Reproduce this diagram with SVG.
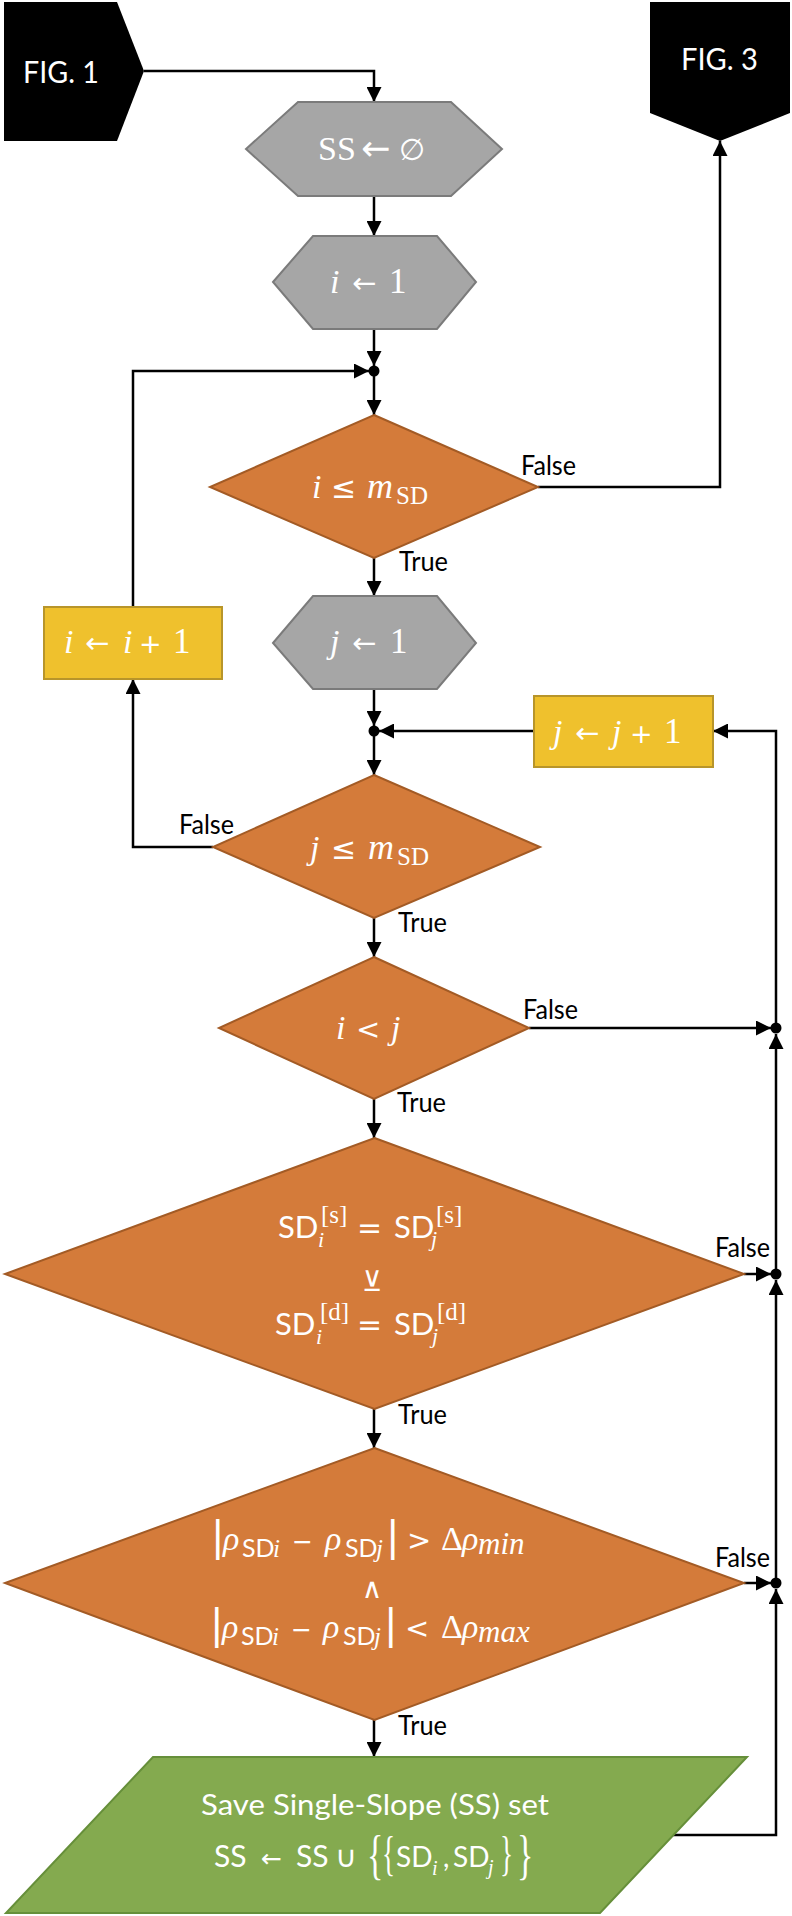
<svg xmlns="http://www.w3.org/2000/svg" width="792" height="1916" viewBox="0 0 792 1916">
<style>
.conn{stroke:#000;stroke-width:2.5;fill:none}
.arr{marker-end:url(#ah)}
.hex{fill:#a6a6a6;stroke:#7b7b7b;stroke-width:2}
.dia{fill:#d47b3a;stroke:#a35b25;stroke-width:2}
.box{fill:#efc12d;stroke:#b8952a;stroke-width:2}
.par{fill:#84aa4f;stroke:#668f3a;stroke-width:2}
.term{fill:#000}
.lbl{font-family:Lato,"Open Sans",sans-serif;font-size:26px;fill:#000}
.fig{font-family:Lato,"Open Sans",sans-serif;font-size:30px;fill:#fff}
.m{font-family:"Liberation Serif","DejaVu Serif",serif;font-size:34px;fill:#fff}
.s{font-family:Lato,"Open Sans",sans-serif}
.it{font-style:italic}
.op{font-family:"DejaVu Sans",sans-serif}
</style>
<defs>
<marker id="ah" viewBox="0 0 16 16" refX="16" refY="8" markerWidth="15" markerHeight="15" markerUnits="userSpaceOnUse" orient="auto">
<path d="M0,0 L16,8 L0,16 z" fill="#000"/>
</marker>
</defs>

<g id="connectors">
<polyline class="conn arr" points="144,71 374,71 374,102"/>
<line class="conn arr" x1="374" y1="196" x2="374" y2="236"/>
<line class="conn arr" x1="374" y1="329" x2="374" y2="366"/>
<polyline class="conn arr" points="133,607 133,371 369,371"/>
<line class="conn arr" x1="374" y1="376" x2="374" y2="415"/>
<polyline class="conn arr" points="538,487 720,487 720,141"/>
<line class="conn arr" x1="374" y1="558" x2="374" y2="596"/>
<line class="conn arr" x1="374" y1="689" x2="374" y2="726"/>
<line class="conn arr" x1="534" y1="731" x2="379" y2="731"/>
<line class="conn arr" x1="374" y1="736" x2="374" y2="775"/>
<polyline class="conn arr" points="213,847 133,847 133,679"/>
<line class="conn arr" x1="374" y1="918" x2="374" y2="957"/>
<line class="conn arr" x1="374" y1="1099" x2="374" y2="1138"/>
<line class="conn arr" x1="374" y1="1409" x2="374" y2="1448"/>
<line class="conn arr" x1="374" y1="1720" x2="374" y2="1757"/>
<line class="conn arr" x1="529" y1="1028" x2="771" y2="1028"/>
<line class="conn arr" x1="744" y1="1274" x2="771" y2="1274"/>
<line class="conn arr" x1="744" y1="1583" x2="771" y2="1583"/>
<polyline class="conn arr" points="673,1835 776,1835 776,1589"/>
<line class="conn arr" x1="776" y1="1583" x2="776" y2="1280"/>
<line class="conn arr" x1="776" y1="1274" x2="776" y2="1034"/>
<polyline class="conn arr" points="776,1028 776,731 713,731"/>
<circle cx="374" cy="371" r="5.5" fill="#000"/>
<circle cx="374" cy="731" r="5.5" fill="#000"/>
<circle cx="776" cy="1028" r="5.5" fill="#000"/>
<circle cx="776" cy="1274" r="5.5" fill="#000"/>
<circle cx="776" cy="1583" r="5.5" fill="#000"/>
<text class="lbl" x="521" y="475" textLength="55" lengthAdjust="spacingAndGlyphs">False</text>
<text class="lbl" x="399" y="571" textLength="49" lengthAdjust="spacingAndGlyphs">True</text>
<text class="lbl" x="179" y="834" textLength="55" lengthAdjust="spacingAndGlyphs">False</text>
<text class="lbl" x="398" y="932" textLength="49" lengthAdjust="spacingAndGlyphs">True</text>
<text class="lbl" x="523" y="1019" textLength="55" lengthAdjust="spacingAndGlyphs">False</text>
<text class="lbl" x="397" y="1112" textLength="49" lengthAdjust="spacingAndGlyphs">True</text>
<text class="lbl" x="715" y="1257" textLength="55" lengthAdjust="spacingAndGlyphs">False</text>
<text class="lbl" x="398" y="1424" textLength="49" lengthAdjust="spacingAndGlyphs">True</text>
<text class="lbl" x="715" y="1567" textLength="55" lengthAdjust="spacingAndGlyphs">False</text>
<text class="lbl" x="398" y="1735" textLength="49" lengthAdjust="spacingAndGlyphs">True</text>
</g>

<g id="fig1">
<polygon class="term" points="4,2 117,2 144,71 117,141 4,141"/>
<text class="fig" x="23" y="83" textLength="76" lengthAdjust="spacingAndGlyphs">FIG. 1</text>
</g>

<g id="fig3">
<polygon class="term" points="650,2 790,2 790,113 720,141 650,113"/>
<text class="fig" x="681" y="70" textLength="77" lengthAdjust="spacingAndGlyphs">FIG. 3</text>
</g>

<g id="init-ss">
<polygon class="hex" points="246,149 298,102 451,102 502,149 451,196 298,196"/>
<text class="m" y="160" font-size="31"><tspan x="318">SS</tspan><tspan class="op" x="361" font-size="35">←</tspan><tspan class="op" x="399" font-size="30">∅</tspan></text>
</g>

<g id="init-i">
<polygon class="hex" points="273,282 313,236 437,236 476,282 437,329 313,329"/>
<text class="m" y="293"><tspan class="it" x="330">i</tspan><tspan class="op" x="352" font-size="29">←</tspan><tspan x="389" font-size="35">1</tspan></text>
</g>

<g id="cond-i">
<polygon class="dia" points="374,415 538,487 374,558 210,487"/>
<text class="m" y="498"><tspan class="it" x="312">i</tspan><tspan class="op" x="331" font-size="30">≤</tspan><tspan class="it" x="367" font-size="36">m</tspan><tspan x="396" dy="6" font-size="25">SD</tspan></text>
</g>

<g id="inc-i">
<rect class="box" x="44" y="607" width="178" height="72"/>
<text class="m" y="653"><tspan class="it" x="64">i</tspan><tspan class="op" x="85" font-size="29">←</tspan><tspan class="it" x="123">i</tspan><tspan class="op" x="139" font-size="27">+</tspan><tspan x="173" font-size="35">1</tspan></text>
</g>

<g id="init-j">
<polygon class="hex" points="273,643 313,596 437,596 476,643 437,689 313,689"/>
<text class="m" y="653"><tspan class="it" x="330">j</tspan><tspan class="op" x="352" font-size="29">←</tspan><tspan x="390" font-size="35">1</tspan></text>
</g>

<g id="inc-j">
<rect class="box" x="534" y="696" width="179" height="71"/>
<text class="m" y="743"><tspan class="it" x="553">j</tspan><tspan class="op" x="575" font-size="29">←</tspan><tspan class="it" x="612">j</tspan><tspan class="op" x="630" font-size="27">+</tspan><tspan x="664" font-size="35">1</tspan></text>
</g>

<g id="cond-j">
<polygon class="dia" points="374,775 540,847 374,918 213,847"/>
<text class="m" y="859"><tspan class="it" x="310">j</tspan><tspan class="op" x="331" font-size="30">≤</tspan><tspan class="it" x="368" font-size="36">m</tspan><tspan x="397" dy="6" font-size="25">SD</tspan></text>
</g>

<g id="cond-ij">
<polygon class="dia" points="374,957 529,1028 374,1099 219,1028"/>
<text class="m" y="1039"><tspan class="it" x="336">i</tspan><tspan class="op" x="356" font-size="29">&lt;</tspan><tspan class="it" x="391">j</tspan></text>
</g>

<g id="cond-sd">
<polygon class="dia" points="374.5,1138 744,1274 374.5,1409 5,1274"/>
<text class="m" y="1238"><tspan class="s" x="278" font-size="31">SD</tspan><tspan x="321" dy="-15" font-size="25">[s]</tspan><tspan class="it" x="318" dy="24" font-size="22">i</tspan><tspan class="op" x="357" dy="-9" font-size="30">=</tspan><tspan class="s" x="394" font-size="31">SD</tspan><tspan x="436" dy="-15" font-size="25">[s]</tspan><tspan class="it" x="431" dy="23" font-size="22">j</tspan></text>
<text class="op" x="372" y="1291" font-size="28" text-anchor="middle" fill="#fff">⊻</text>
<text class="m" y="1335"><tspan class="s" x="275" font-size="31">SD</tspan><tspan x="320" dy="-15" font-size="25">[d]</tspan><tspan class="it" x="316" dy="24" font-size="22">i</tspan><tspan class="op" x="357" dy="-9" font-size="30">=</tspan><tspan class="s" x="394" font-size="31">SD</tspan><tspan x="437" dy="-15" font-size="25">[d]</tspan><tspan class="it" x="432" dy="23" font-size="22">j</tspan></text>
</g>

<g id="cond-rho">
<polygon class="dia" points="374.5,1448 744,1583 374.5,1720 5,1583"/>
<text class="m" y="1550"><tspan class="op" x="211" font-size="40">|</tspan><tspan class="it" x="223">ρ</tspan><tspan class="s" x="242" dy="7" font-size="25">SD</tspan><tspan class="it" x="273" font-size="25">i</tspan><tspan class="op" x="292" dy="-7" font-size="25">−</tspan><tspan class="it" x="325">ρ</tspan><tspan class="s" x="345" dy="7" font-size="25">SD</tspan><tspan class="it" x="376" font-size="25">j</tspan><tspan class="op" x="386" dy="-7" font-size="40">|</tspan><tspan class="op" x="407" font-size="29">&gt;</tspan><tspan x="441">Δ</tspan><tspan class="it" x="462">ρ</tspan><tspan class="it" x="478" dy="4" font-size="31">min</tspan></text>
<text class="op" x="372" y="1598" font-size="28" text-anchor="middle" fill="#fff">∧</text>
<text class="m" y="1638"><tspan class="op" x="210" font-size="40">|</tspan><tspan class="it" x="222">ρ</tspan><tspan class="s" x="241" dy="7" font-size="25">SD</tspan><tspan class="it" x="272" font-size="25">i</tspan><tspan class="op" x="291" dy="-7" font-size="25">−</tspan><tspan class="it" x="323">ρ</tspan><tspan class="s" x="343" dy="7" font-size="25">SD</tspan><tspan class="it" x="374" font-size="25">j</tspan><tspan class="op" x="384" dy="-7" font-size="40">|</tspan><tspan class="op" x="405" font-size="29">&lt;</tspan><tspan x="441">Δ</tspan><tspan class="it" x="462">ρ</tspan><tspan class="it" x="478" dy="4" font-size="31">max</tspan></text>
</g>

<g id="save-ss">
<polygon class="par" points="153,1757 747,1757 600,1913 6,1913"/>
<text class="s" x="375" y="1815" font-size="28" text-anchor="middle" fill="#fff" textLength="348" lengthAdjust="spacingAndGlyphs">Save Single-Slope (SS) set</text>
<text class="m" y="1867"><tspan class="s" x="214" font-size="30">SS</tspan><tspan class="op" x="261" font-size="25">←</tspan><tspan class="s" x="296" font-size="30">SS</tspan><tspan class="op" x="335" font-size="30">∪</tspan><tspan class="s" x="396" font-size="28">SD</tspan><tspan class="it" x="432" dy="8" font-size="20">i</tspan><tspan class="s" x="443" dy="-8" font-size="28">,</tspan><tspan class="s" x="453" font-size="28">SD</tspan><tspan class="it" x="488" dy="7" font-size="20">j</tspan></text>
<text class="m" font-size="40" transform="translate(367,1873) scale(1,1.6)">{</text>
<text class="m" font-size="40" transform="translate(382,1870) scale(0.8,1.4)">{</text>
<text class="m" font-size="40" transform="translate(500,1870) scale(0.8,1.4)">}</text>
<text class="m" font-size="40" transform="translate(517,1873) scale(1,1.6)">}</text>
</g>
</svg>
